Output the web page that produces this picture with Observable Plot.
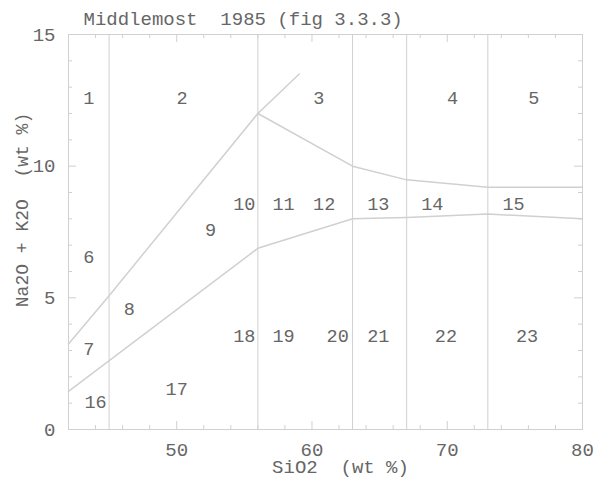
<!DOCTYPE html>
<html><head><meta charset="utf-8">
<script src="https://cdn.jsdelivr.net/npm/d3@7"></script>
<script src="https://cdn.jsdelivr.net/npm/@observablehq/plot@0.6"></script>
<style>
body{margin:0;background:#fff;}
svg text{white-space:pre;}
</style></head><body><div id="chart"></div>
<script>
const titleText = "Middlemost  1985 (fig 3.3.3)";
const xLabel = "SiO2  (wt %)";
const yLabel = "Na2O + K2O  (wt %)";
const xMajor = [50, 60, 70, 80];
const xMinor = [44, 46, 48, 52, 54, 56, 58, 62, 64, 66, 68, 72, 74, 76, 78];
const yMajor = [0, 5, 10, 15];
const yMinor = [1, 2, 3, 4, 6, 7, 8, 9, 11, 12, 13, 14];
const verticalSiO2 = [45, 56, 63, 67, 73];
const upperX = [42, 45, 56, 59.06];
const upperY = [3.25, 5.08, 12, 13.5];
const lowerX = [42, 56, 63, 67, 73, 80];
const lowerY = [1.45, 6.88, 8, 8.05, 8.18, 8];
const topX = [56, 63, 67, 73, 80];
const topY = [12, 10, 9.48, 9.2, 9.2];
const fieldIds = ["1","2","3","4","5","6","7","8","9","10","11","12","13","14","15","16","17","18","19","20","21","22","23"];
const fieldX = [43.5, 50.4, 60.5, 70.4, 76.4, 43.5, 43.5, 46.5, 52.5, 55, 57.9, 60.9, 64.9, 68.9, 74.9, 44, 50, 55, 57.9, 61.9, 64.9, 69.9, 75.9];
const fieldY = [12.6, 12.6, 12.6, 12.6, 12.6, 6.56, 3.07, 4.59, 7.58, 8.57, 8.57, 8.57, 8.57, 8.57, 8.57, 1.06, 1.55, 3.56, 3.56, 3.56, 3.56, 3.56, 3.56];

const W = 597, H = 478, mL = 68, mR = 15, mT = 34, mB = 49;
const fw = W - mL - mR, fh = H - mT - mB;
const lineColor = "#d0d0d0";
const textColor = "#666";
const toPts = (xs, ys) => xs.map((x, i) => ({x, y: ys[i]}));
const fields = fieldIds.map((t, i) => ({t, x: fieldX[i], y: fieldY[i]}));

const chart = Plot.plot({
  width: W, height: H,
  marginLeft: mL, marginRight: mR, marginTop: mT, marginBottom: mB,
  x: {domain: [42, 80]},
  y: {domain: [0, 15]},
  style: {fontFamily: "'Liberation Mono', 'Courier New', monospace", fontSize: "19px", color: textColor, background: "#fff"},
  marks: [
    Plot.ruleX(verticalSiO2, {stroke: lineColor}),
    Plot.line(toPts(upperX, upperY), {x: "x", y: "y", stroke: lineColor}),
    Plot.line(toPts(lowerX, lowerY), {x: "x", y: "y", stroke: lineColor}),
    Plot.line(toPts(topX, topY), {x: "x", y: "y", stroke: lineColor}),
    Plot.frame({stroke: lineColor}),
    // inward ticks
    Plot.tickX(xMinor, {x: d => d, insetTop: fh - 4, stroke: lineColor}),
    Plot.tickX(xMajor, {x: d => d, insetTop: fh - 8, stroke: lineColor}),
    Plot.tickX(xMinor, {x: d => d, insetBottom: fh - 4, stroke: lineColor}),
    Plot.tickX(xMajor, {x: d => d, insetBottom: fh - 8, stroke: lineColor}),
    Plot.tickY(yMinor, {y: d => d, insetRight: fw - 4, stroke: lineColor}),
    Plot.tickY(yMajor, {y: d => d, insetRight: fw - 8, stroke: lineColor}),
    Plot.tickY(yMinor, {y: d => d, insetLeft: fw - 4, stroke: lineColor}),
    Plot.tickY(yMajor, {y: d => d, insetLeft: fw - 8, stroke: lineColor}),
    Plot.axisX({anchor: "bottom", ticks: xMajor, tickSize: 0, tickPadding: 13, fill: textColor, label: null}),
    Plot.axisY({anchor: "left", ticks: yMajor, tickSize: 0, tickPadding: 13, fill: textColor, label: null}),
    Plot.text(fields, {x: "x", y: "y", text: "t", fill: textColor, fontSize: 18.5}),
    Plot.text([titleText], {frameAnchor: "top-left", textAnchor: "start", lineAnchor: "middle", dx: 15, dy: -16, text: d => d, fill: textColor}),
    Plot.text([yLabel], {frameAnchor: "left", rotate: -90, lineAnchor: "middle", textAnchor: "middle", dx: -46, dy: -22, text: d => d, fill: textColor, fontSize: 18}),
    Plot.text([xLabel], {frameAnchor: "bottom", lineAnchor: "middle", textAnchor: "middle", dx: 15, dy: 37, text: d => d, fill: textColor})
  ]
});
document.getElementById("chart").appendChild(chart);
</script>
</body></html>
